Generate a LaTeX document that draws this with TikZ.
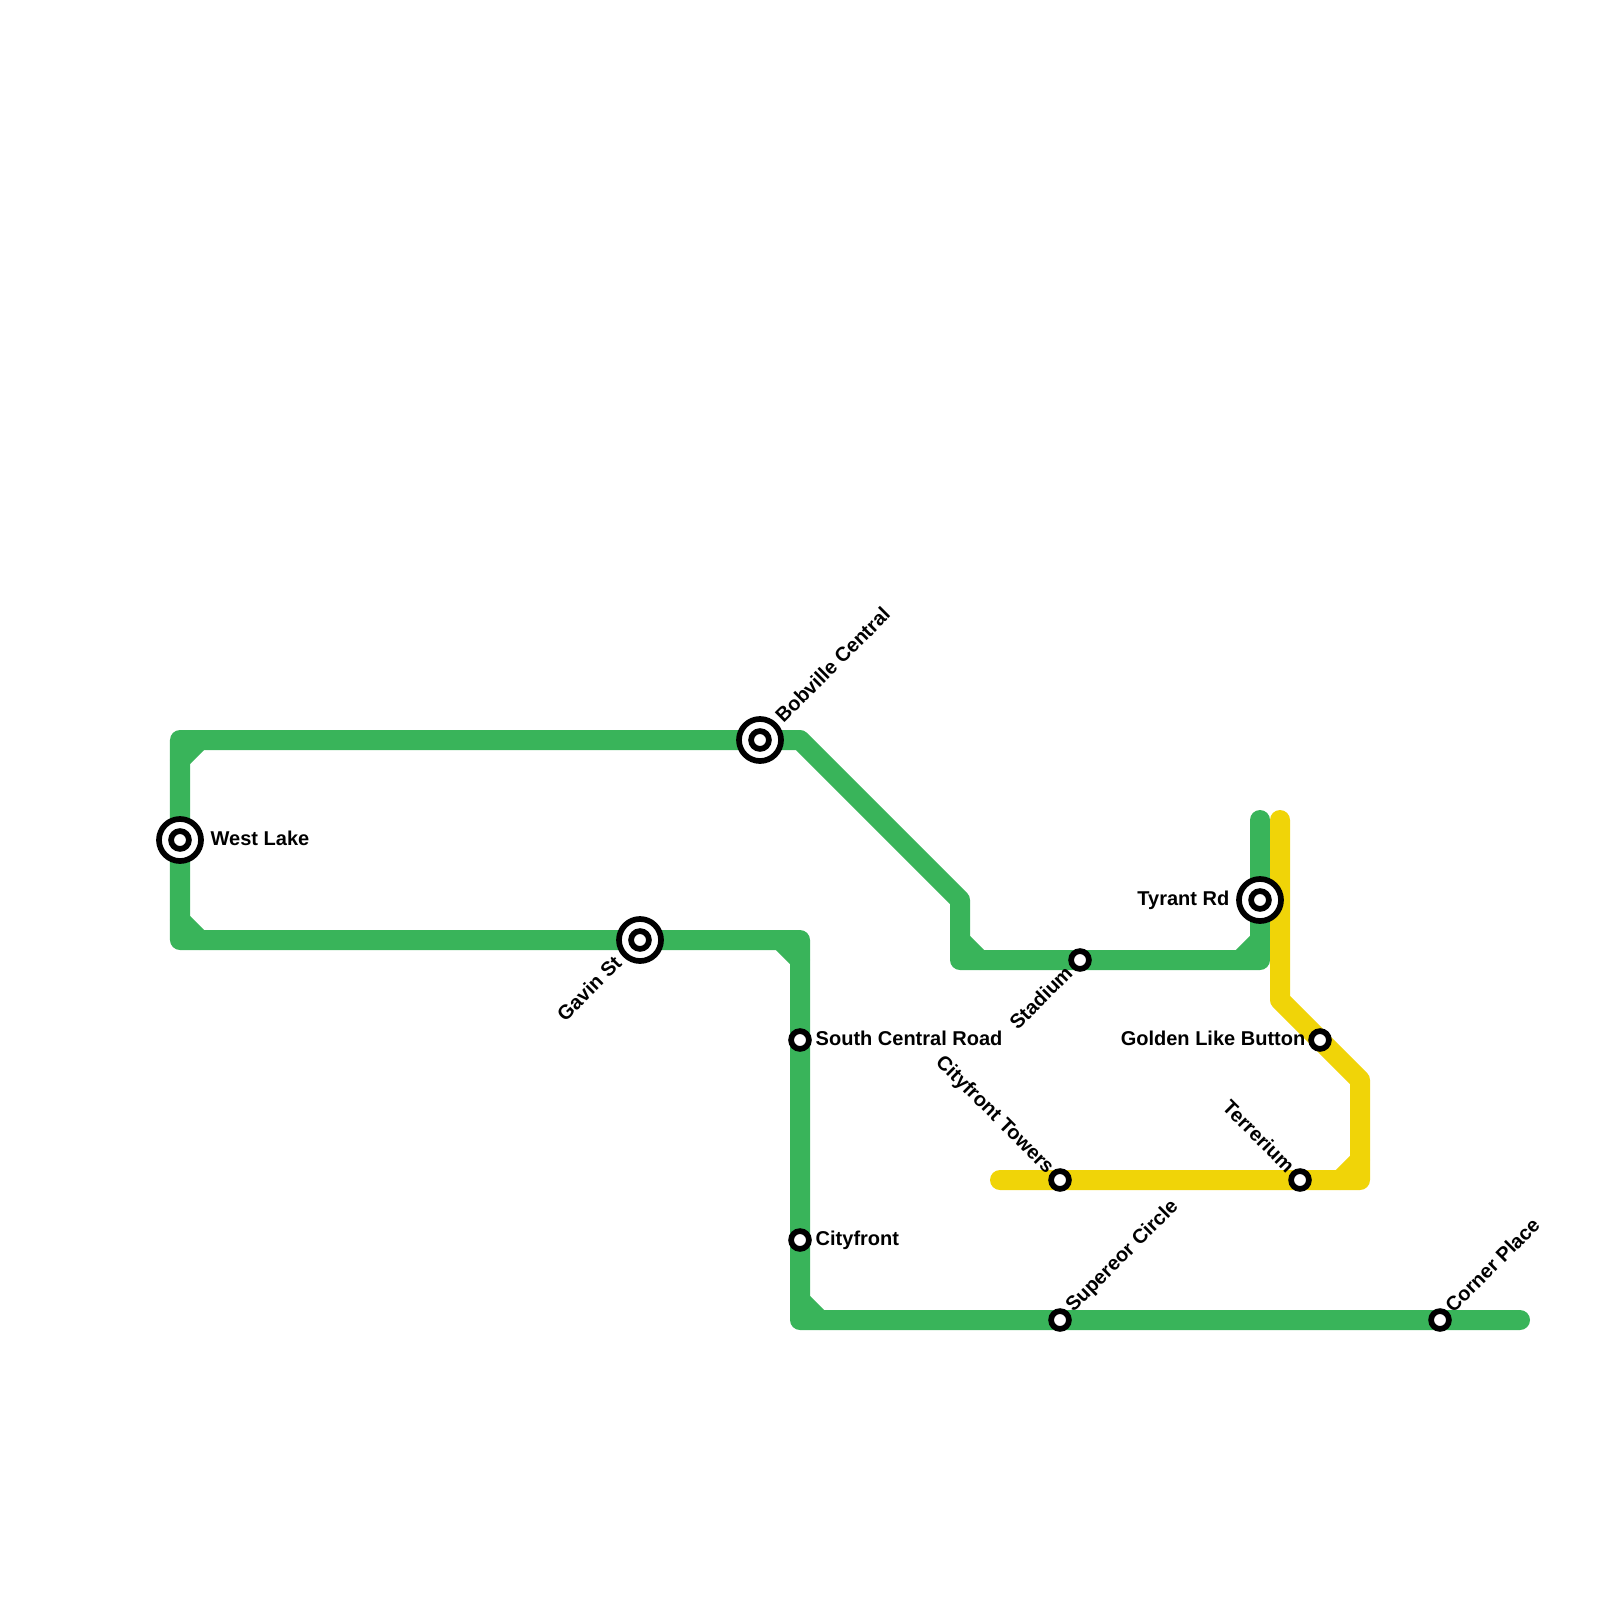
\documentclass[tikz,border=0pt]{standalone}
\usepackage{fontspec}
\setmainfont{Liberation Sans}
\tikzset{
  greenline/.style={
    draw={rgb,255:red,57;green,180;blue,90},
    line width=0.2cm,
    line cap=round,
    line join=round
  },
  yellowline/.style={
    draw={rgb,255:red,240;green,212;blue,8},
    line width=0.2cm,
    line cap=round,
    line join=round
  },
  stop/.style={
    circle,
    draw=black,
    fill=white,
    line width=0.057cm,
    minimum size=0.178cm,
    inner sep=0pt
  },
  hub/.style={
    stop,
    minimum size=0.42cm
  },
  stoplabel/.style={
    font=\bfseries\fontsize{5.69}{7}\selectfont,
    text=black,
    inner sep=0pt,
    text height=1.5ex,
    text depth=.25ex
  }
}
\begin{document}
\begin{tikzpicture}[x=0.01cm,y=-0.01cm]
  \useasboundingbox (0,0) rectangle (1600,1600);

  % ------------------------------------------------------------------
  % Bends of the lines
  % ------------------------------------------------------------------
  \coordinate (gStart) at (1260,820);
  \coordinate (gTyrantCorner) at (1260,960);
  \coordinate (gStadiumCorner) at (960,960);
  \coordinate (gDiagLow) at (960,900);
  \coordinate (gDiagHigh) at (800,740);
  \coordinate (gTopLeft) at (180,740);
  \coordinate (gBottomLeft) at (180,940);
  \coordinate (gMidCorner) at (800,940);
  \coordinate (gLowCorner) at (800,1320);
  \coordinate (gEnd) at (1520,1320);

  \coordinate (yStart) at (1280,820);
  \coordinate (yDiagHigh) at (1280,1000);
  \coordinate (yDiagLow) at (1360,1080);
  \coordinate (yCorner) at (1360,1180);
  \coordinate (yEnd) at (1000,1180);

  % Short pieces that fill the inner corners
  \coordinate (c1a) at (180,760);
  \coordinate (c1b) at (200,740);
  \coordinate (c2a) at (180,920);
  \coordinate (c2b) at (200,940);
  \coordinate (c3a) at (780,940);
  \coordinate (c3b) at (800,960);
  \coordinate (c4a) at (800,1300);
  \coordinate (c4b) at (820,1320);
  \coordinate (c5a) at (960,940);
  \coordinate (c5b) at (980,960);
  \coordinate (c6a) at (1240,960);
  \coordinate (c6b) at (1260,940);
  \coordinate (c7a) at (1340,1180);
  \coordinate (c7b) at (1360,1160);

  % ------------------------------------------------------------------
  % Lines
  % ------------------------------------------------------------------
  \draw[greenline] (gStart) -- (gTyrantCorner) -- (gStadiumCorner) -- (gDiagLow)
    -- (gDiagHigh) -- (gTopLeft) -- (gBottomLeft) -- (gMidCorner)
    -- (gLowCorner) -- (gEnd);
  \foreach \i in {1,...,6}
    \draw[greenline] (c\i a) -- (c\i b);

  \draw[yellowline] (yStart) -- (yDiagHigh) -- (yDiagLow) -- (yCorner) -- (yEnd);
  \draw[yellowline] (c7a) -- (c7b);

  % ------------------------------------------------------------------
  % Stations
  % ------------------------------------------------------------------
  \node[hub] (westLake) at (180,840) {};
  \node[hub] (bobville) at (760,740) {};
  \node[hub] (gavin) at (640,940) {};
  \node[hub] (tyrant) at (1260,900) {};
  \foreach \s in {westLake,bobville,gavin,tyrant}
    \node[stop] (\s Inner) at (\s) {};

  \node[stop] (stadium) at (1080,960) {};
  \node[stop] (southCentral) at (800,1040) {};
  \node[stop] (cityfront) at (800,1240) {};
  \node[stop] (golden) at (1320,1040) {};
  \node[stop] (towers) at (1060,1180) {};
  \node[stop] (terrerium) at (1300,1180) {};
  \node[stop] (supereor) at (1060,1320) {};
  \node[stop] (corner) at (1440,1320) {};

  % ------------------------------------------------------------------
  % Labels
  % ------------------------------------------------------------------
  \node[stoplabel, anchor=west] (lWest) at (210,834) {West Lake};
  \node[stoplabel, anchor=west] (lSouth) at (815,1034) {South Central Road};
  \node[stoplabel, anchor=west] (lCity) at (815,1234) {Cityfront};
  \node[stoplabel, anchor=east] (lTyrant) at (1230,894) {Tyrant Rd};
  \node[stoplabel, anchor=east] (lGolden) at (1306,1034) {Golden Like Button};

  \node[stoplabel, anchor=west, rotate=45] (lBob) at (775,716) {Bobville Central};
  \node[stoplabel, anchor=west, rotate=45] (lSup) at (1065,1305) {Supereor Circle};
  \node[stoplabel, anchor=west, rotate=45] (lCorner) at (1445,1306) {Corner Place};
  \node[stoplabel, anchor=east, rotate=45] (lGavin) at (615,956) {Gavin St};
  \node[stoplabel, anchor=east, rotate=45] (lStadium) at (1066,966) {Stadium};
  \node[stoplabel, anchor=east, rotate=-45] (lTowers) at (1055,1167) {Cityfront Towers};
  \node[stoplabel, anchor=east, rotate=-45] (lTerr) at (1295,1166) {Terrerium};
\end{tikzpicture}
\end{document}
